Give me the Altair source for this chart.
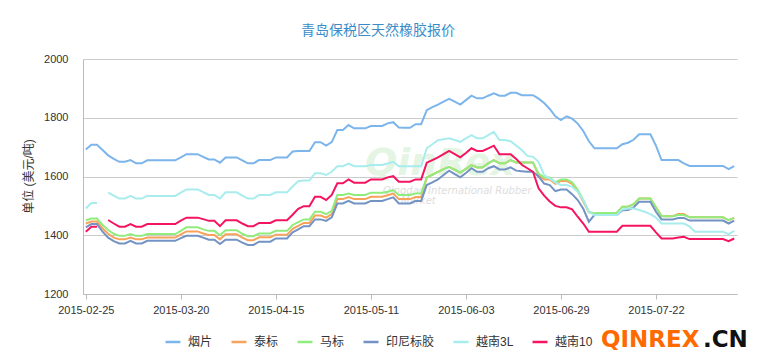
import altair as alt
import pandas as pd

# ---- categories: trading days (weekends and 3 public holidays excluded) ----
holidays = ["2015-04-06", "2015-05-01", "2015-06-22"]
dates = [d.strftime("%Y-%m-%d") for d in pd.bdate_range("2015-02-25", "2015-08-11")
         if d.strftime("%Y-%m-%d") not in holidays]
tick_dates = ["2015-02-25", "2015-03-20", "2015-04-15", "2015-05-11",
              "2015-06-03", "2015-06-29", "2015-07-22"]
y_ticks = [1200, 1400, 1600, 1800, 2000]

series_names = ["烟片", "泰标", "马标", "印尼标胶", "越南3L", "越南10"]
series_colors = ["#7cb5ec", "#f7a35c", "#90ed7d", "#7393c4", "#a8eced", "#f5145f"]

yanpian = [1692,1708,1708,1690,1672,1660,1650,1650,1656,1645,
           1645,1655,1655,1655,1655,1655,1655,1665,1676,1676,
           1676,1667,1658,1658,1647,1665,1665,1665,1655,1645,
           1645,1656,1656,1656,1665,1665,1665,1685,1687,1687,
           1687,1717,1717,1705,1717,1758,1758,1775,1764,1764,
           1764,1772,1772,1772,1781,1785,1767,1766,1766,1778,
           1778,1826,1836,1845,1855,1864,1855,1845,1860,1875,
           1866,1866,1875,1883,1875,1875,1885,1885,1877,1877,
           1877,1865,1850,1830,1805,1792,1805,1797,1780,1755,
           1720,1696,1696,1696,1696,1696,1710,1715,1725,1744,
           1744,1744,1705,1656,1656,1656,1656,1645,1636,1636,
           1636,1636,1636,1636,1636,1625,1635]

taibiao = [1440,1447,1447,1423,1405,1392,1386,1386,1392,1386,
           1386,1392,1392,1392,1392,1392,1392,1403,1413,1413,
           1413,1406,1401,1401,1386,1403,1403,1403,1392,1383,
           1383,1393,1393,1393,1402,1402,1402,1422,1432,1442,
           1442,1467,1467,1460,1472,1523,1523,1530,1523,1523,
           1523,1531,1531,1531,1536,1542,1523,1523,1523,1530,
           1530,1597,1606,1616,1625,1633,1623,1613,1626,1639,
           1631,1631,1645,1656,1645,1645,1656,1648,1648,1648,
           1648,1605,1590,1590,1575,1585,1585,1575,1550,1515,
           1478,1474,1476,1476,1476,1476,1497,1497,1506,1525,
           1525,1525,1495,1465,1465,1465,1472,1472,1461,1461,
           1461,1461,1461,1461,1461,1451,1459]

mabiao = [1451,1457,1457,1435,1418,1405,1398,1398,1404,1398,
          1398,1404,1404,1404,1404,1404,1404,1415,1427,1427,
          1427,1420,1415,1415,1400,1417,1417,1417,1405,1397,
          1397,1406,1406,1406,1415,1415,1415,1435,1445,1454,
          1454,1480,1480,1472,1483,1537,1537,1542,1537,1537,
          1537,1545,1545,1545,1548,1554,1537,1537,1537,1542,
          1542,1597,1606,1616,1625,1633,1623,1613,1626,1639,
          1631,1631,1645,1656,1645,1645,1656,1648,1648,1648,
          1648,1610,1597,1597,1580,1590,1590,1580,1555,1520,
          1480,1474,1476,1476,1476,1476,1497,1497,1506,1525,
          1525,1525,1495,1465,1465,1465,1469,1469,1461,1461,
          1461,1461,1461,1461,1461,1451,1459]

yinni = [1427,1438,1438,1412,1392,1380,1372,1372,1381,1372,
         1372,1381,1381,1381,1381,1381,1381,1390,1398,1398,
         1398,1392,1385,1385,1370,1385,1385,1385,1375,1367,
         1367,1378,1378,1378,1389,1389,1389,1410,1420,1431,
         1431,1454,1454,1449,1461,1508,1508,1517,1508,1508,
         1508,1517,1517,1517,1523,1529,1508,1508,1508,1517,
         1517,1571,1580,1590,1605,1620,1608,1597,1612,1628,
         1616,1616,1628,1635,1624,1624,1631,1620,1618,1616,
         1616,1600,1576,1571,1550,1556,1556,1540,1520,1490,
         1446,1469,1469,1469,1469,1469,1485,1486,1495,1514,
         1514,1514,1480,1454,1454,1454,1459,1459,1450,1450,
         1450,1450,1450,1450,1450,1440,1450]

yuenan3l = [1491,1510,1510,None,1545,1535,1525,1525,1534,1525,
            1525,1534,1534,1534,1534,1534,1534,1545,1556,1556,
            1556,1547,1537,1537,1525,1546,1546,1546,1535,1525,
            1525,1537,1537,1537,1546,1546,1546,1566,1584,1586,
            1586,1611,1611,1605,1616,1635,1635,1644,1635,1635,
            1635,1639,1639,1639,1644,1650,1635,1635,1635,1635,
            1635,1696,1710,1724,1727,1730,1724,1718,1730,1741,
            1730,1730,1741,1752,1724,1724,1720,1705,1690,1670,
            1667,1650,1605,1593,1580,1571,1571,1565,1548,1520,
            1480,1469,1469,1469,1469,1469,1488,1491,1491,1486,
            1480,1472,1460,1440,1440,1440,1440,1440,1430,1412,
            1412,1412,1412,1412,1412,1404,1415]

yuenan10 = [1412,1429,1429,None,1452,1440,1429,1429,1438,1429,
            1429,1438,1438,1438,1438,1438,1438,1450,1460,1460,
            1460,1455,1449,1449,1431,1451,1451,1451,1440,1431,
            1431,1442,1442,1442,1451,1451,1451,1470,1490,1499,
            1499,1531,1531,1520,1537,1577,1577,1590,1579,1579,
            1579,1590,1590,1590,1597,1601,1582,1582,1582,1590,
            1590,1647,1656,1665,1676,1687,1676,1665,1680,1696,
            1687,1687,1696,1705,1676,1676,1676,1660,1640,1628,
            1616,1560,1535,1515,1500,1495,1495,1488,1463,1440,
            1412,1412,1412,1412,1412,1412,1432,1432,1432,1432,
            1432,1432,1410,1389,1389,1389,1392,1395,1387,1387,
            1387,1387,1387,1387,1387,1380,1389]

all_series = [yanpian, taibiao, mabiao, yinni, yuenan3l, yuenan10]

# ---- long table; a missing value breaks the line into segments ----
rows = []
for name, vals in zip(series_names, all_series):
    seg = 0
    for d, v in zip(dates, vals):
        if v is None:
            seg += 1
            continue
        rows.append({"date": d, "series": name, "value": v, "seg": f"{name}-{seg}"})
df = pd.DataFrame(rows)

FONT = "Liberation Sans, Noto Sans CJK SC"

color = alt.Color(
    "series:N",
    scale=alt.Scale(domain=series_names, range=series_colors),
    sort=series_names,
    legend=alt.Legend(
        orient="none", legendX=81, legendY=274, direction="horizontal",
        title=None, symbolType="stroke", symbolSize=225, symbolStrokeWidth=2.5,
        labelFont=FONT, labelFontSize=12, labelColor="#333333", labelOffset=6,
        columnPadding=13, padding=0,
    ),
)

x = alt.X(
    "date:O",
    scale=alt.Scale(type="point", padding=0.5),
    axis=alt.Axis(
        values=tick_dates, labelAngle=0, title=None, grid=False,
        domainColor="#bbbbbb", tickColor="#bbbbbb", tickSize=5,
        labelFont=FONT, labelFontSize=11, labelColor="#333333", labelPadding=5,
    ),
)
y = alt.Y(
    "value:Q",
    scale=alt.Scale(domain=[1200, 2000], nice=False, zero=False),
    axis=alt.Axis(
        values=y_ticks, format="d", ticks=False, domain=True, domainColor="#bbbbbb",
        gridColor="#cccccc", labelFont=FONT, labelFontSize=11,
        labelColor="#333333", labelPadding=15,
        title="单位 (美元/吨)", titleFont=FONT, titleFontSize=12,
        titleFontWeight="normal", titleColor="#333333",
        titleX=-55, titleY=117, titleAngle=-90, titleBaseline="middle",
    ),
)

base = alt.Chart(df)
lines = [
    base.transform_filter(alt.datum.series == name)
    .mark_line(strokeWidth=2)
    .encode(x=x, y=y, color=color, detail="seg:N")
    for name in series_names
]

wm_big = alt.Chart(pd.DataFrame({"t": ["QinRex"]})).mark_text(
    font="DejaVu Sans", fontSize=38, fontWeight="bold", fontStyle="italic",
    color="#cfeecf", opacity=0.55, align="left", baseline="alphabetic",
).encode(text="t:N", x=alt.value(282), y=alt.value(116))
wm_small = alt.Chart(pd.DataFrame({"t": ["Qingdao International Rubber"]})).mark_text(
    font="DejaVu Sans", fontSize=10, fontStyle="italic", color="#dddddd",
    align="left", baseline="middle",
).encode(text="t:N", x=alt.value(300), y=alt.value(132))
wm_small2 = alt.Chart(pd.DataFrame({"t": ["Market"]})).mark_text(
    font="DejaVu Sans", fontSize=10, fontStyle="italic", color="#dddddd",
    align="left", baseline="middle",
).encode(text="t:N", x=alt.value(318), y=alt.value(142))

brand1 = alt.Chart(pd.DataFrame({"t": ["QINREX"]})).mark_text(
    font="DejaVu Sans", fontSize=23, fontWeight="bold", color="#ff6a00",
    align="left", baseline="middle",
).encode(text="t:N", x=alt.value(518), y=alt.value(281))
brand2 = alt.Chart(pd.DataFrame({"t": [".CN"]})).mark_text(
    font="DejaVu Sans", fontSize=23, fontWeight="bold", color="#111111",
    align="left", baseline="middle",
).encode(text="t:N", x=alt.value(620), y=alt.value(281))

chart = alt.layer(wm_big, wm_small, wm_small2, *lines, brand1, brand2).properties(
    width=654,
    height=235,
    title=alt.TitleParams(
        "青岛保税区天然橡胶报价", anchor="middle", dx=-32, offset=15,
        font=FONT, fontSize=14, fontWeight="normal", color="#3a8cc8",
    ),
    autosize=alt.AutoSizeParams(type="none"),
    padding={"left": 75, "top": 51, "right": 10, "bottom": 58},
).configure_view(stroke=None).configure_axis(gridWidth=1)

chart.save("out.html", embed_options={"renderer": "svg", "actions": False})
